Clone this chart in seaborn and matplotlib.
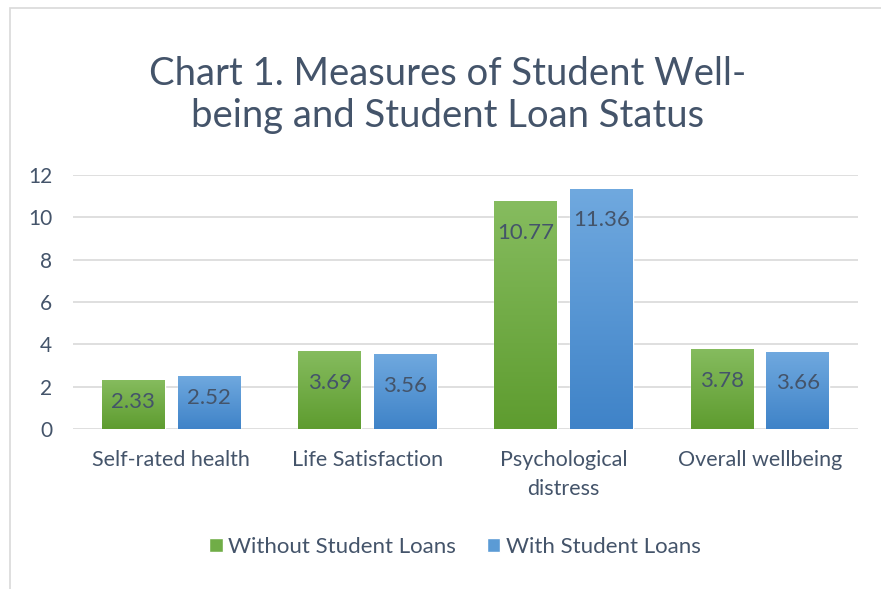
import numpy as np
import pandas as pd
import matplotlib.pyplot as plt
from matplotlib.patches import Rectangle
from matplotlib.colors import LinearSegmentedColormap
import seaborn as sns

sns.set_style("white")
plt.rcParams['font.family'] = ['Lato', 'DejaVu Sans']

categories = ["Self-rated health", "Life Satisfaction", "Psychological\ndistress", "Overall wellbeing"]
without_loans = [2.33, 3.69, 10.77, 3.78]
with_loans = [2.52, 3.56, 11.36, 3.66]
series_names = ["Without Student Loans", "With Student Loans"]
yticks = [0, 2, 4, 6, 8, 10, 12]

df = pd.DataFrame({
    "category": categories * 2,
    "value": without_loans + with_loans,
    "series": [series_names[0]] * 4 + [series_names[1]] * 4,
})

mid_colors = ["#70AD47", "#5B9BD5"]
gradients = [("#86BC5F", "#5E9C2F"), ("#70A9DF", "#3F83C8")]
text_col = "#44546A"

fig = plt.figure(figsize=(8.81, 5.89), dpi=100)
ax = fig.add_axes([73 / 881, 160 / 589, 785 / 881, 254 / 589])

sns.barplot(data=df, x="category", y="value", hue="series", palette=mid_colors,
            width=0.77, gap=0.17, ax=ax, legend=False, saturation=1)

ax.set_ylim(0, 12)
xlim = ax.get_xlim()

# gradient fill on each bar, value label near the top inside
for cont, (top, bot) in zip(ax.containers, gradients):
    cmap = LinearSegmentedColormap.from_list("g", [bot, top])
    for p, v in zip(cont.patches, cont.datavalues):
        x0, y0 = p.get_x(), p.get_y()
        w, h = p.get_width(), p.get_height()
        grad = np.linspace(0, 1, 256).reshape(-1, 1)
        im = ax.imshow(grad, extent=[x0, x0 + w, y0, y0 + h], origin="lower",
                       aspect="auto", cmap=cmap, zorder=p.get_zorder() + 0.1)
        im.set_clip_path(p)
        off = -16 if v < 3 else -23
        ax.annotate(f"{v:.2f}", (x0 + w / 2, y0 + h), xytext=(0, off),
                    textcoords="offset points", ha="center", va="center",
                    fontsize=16, color=text_col, zorder=5)

ax.set_xlim(xlim)
ax.set_ylim(0, 12)
ax.set_yticks(yticks)
ax.yaxis.grid(True, color="#D9D9D9", linewidth=1.2)
ax.set_axisbelow(True)
for s in ax.spines.values():
    s.set_visible(False)
ax.tick_params(axis="both", length=0, labelcolor=text_col)
ax.tick_params(axis="y", pad=15, labelsize=15)
ax.tick_params(axis="x", pad=15, labelsize=15.5)
plt.setp(ax.get_xticklabels(), linespacing=1.55)
ax.set_xlabel("")
ax.set_ylabel("")

fig.suptitle("Chart 1. Measures of Student Well-\nbeing and Student Loan Status",
             x=448 / 881, y=1 - 56 / 589, fontsize=27.5, color=text_col,
             linespacing=1.22, va="top")

handles = [Rectangle((0, 0), 1, 1, facecolor=c) for c in mid_colors]
fig.legend(handles, series_names, loc="center", bbox_to_anchor=(455 / 881, 1 - 547 / 589),
           ncol=2, frameon=False, fontsize=16, handlelength=0.6, handleheight=0.6,
           handletextpad=0.25, columnspacing=1.4, labelcolor=text_col)

# chart frame
fig.add_artist(Rectangle((10 / 881, -0.01), 1.0, 1 - 8 / 589 + 0.01, transform=fig.transFigure,
                         fill=False, edgecolor="#D9D9D9", linewidth=1.2))

fig.savefig("out.png", dpi=100)
